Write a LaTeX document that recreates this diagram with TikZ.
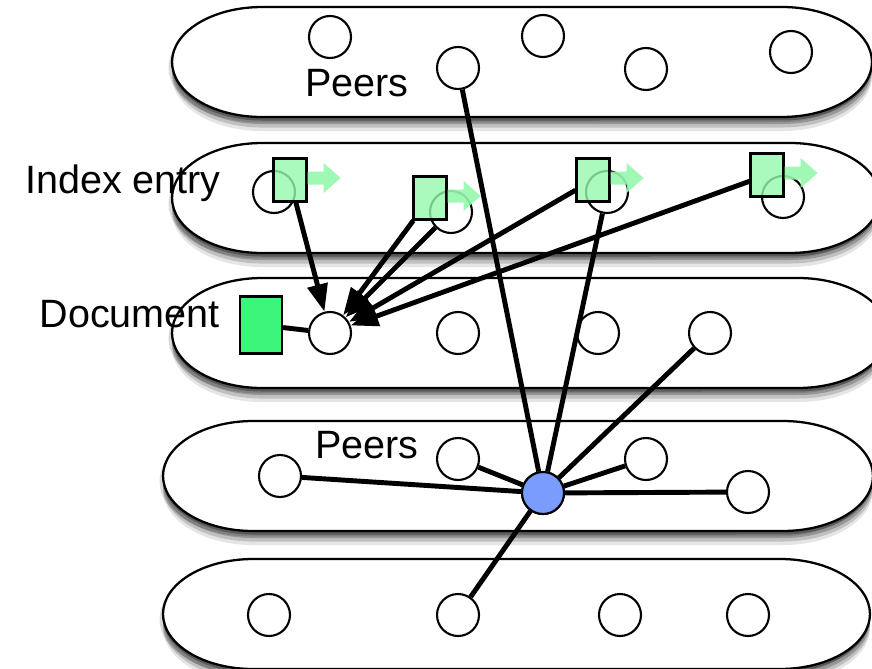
\documentclass[tikz,border=0pt]{standalone}
\usepackage{fontspec}
\setmainfont{Liberation Sans}
\usetikzlibrary{arrows.meta,shadows}

\definecolor{entrygreen}{RGB}{149,249,174}
\definecolor{docgreen}{RGB}{60,245,122}
\definecolor{hubblue}{RGB}{123,156,255}

\tikzset{
  layer/.style={draw=black, line width=1.3pt, fill=white,
    general shadow={shadow yshift=-2pt, fill=black, opacity=0.3},
    general shadow={shadow yshift=-4pt, fill=black, opacity=0.22},
    general shadow={shadow yshift=-6pt, fill=black, opacity=0.16},
    general shadow={shadow yshift=-8pt, fill=black, opacity=0.1},
    general shadow={shadow xshift=-2pt, shadow yshift=-3pt, fill=black, opacity=0.15}},
  peer/.style={circle, draw, line width=1.2pt, fill=white, minimum size=0.84cm, inner sep=0pt},
  hub/.style={peer, fill=hubblue},
  entry/.style={rectangle, draw, line width=1.2pt, fill=entrygreen, fill opacity=0.8,
    minimum width=0.66cm, minimum height=0.86cm, inner sep=0pt},
  tag/.style={fill=entrygreen, fill opacity=0.9},
  doc/.style={rectangle, draw, line width=1.2pt, fill=docgreen,
    minimum width=0.84cm, minimum height=1.14cm, inner sep=0pt},
  link/.style={line width=2.8pt},
  ref/.style={link, -{Triangle[length=0.55cm,width=0.4cm,fill=black]}},
  lbl/.style={font=\fontsize{22.5}{27}\selectfont, inner sep=0pt}
}

\begin{document}
\begin{tikzpicture}[x=0.02cm,y=-0.02cm]
\useasboundingbox (0,0) rectangle (872,669);
% Layers
\foreach \xl/\yt/\xr in {172/7/872, 172/143/880, 172/278/888, 163/421/873, 163/559/870} {
  \path[layer] (\xl+90,\yt) -- (\xr-90,\yt)
    arc[start angle=90,end angle=-90,x radius=1.8cm,y radius=1.1cm]
    -- (\xl+90,\yt+110)
    arc[start angle=270,end angle=90,x radius=1.8cm,y radius=1.1cm] -- cycle;
}
% Labels
\node[lbl, anchor=base west] (peerstop) at (305,97) {Peers};
\node[lbl, anchor=base east] (entrylbl) at (221,194) {Index entry};
\node[lbl, anchor=base east] (doclbl) at (220,327) {Document};
\node[lbl, anchor=base west] (peersmid) at (315,458) {Peers};
% Peers (top layer)
\node[peer] (p1) at (330,37) {};
\node[peer] (p2) at (458,68) {};
\node[peer] (p3) at (543,36) {};
\node[peer] (p4) at (646,69) {};
\node[peer] (p5) at (791,52) {};
% Index layer
\node[peer] (i1) at (274,192) {};
\node[peer] (i2) at (451,212) {};
\node[peer] (i3) at (607,192) {};
\node[peer] (i4) at (783,197) {};
% Document layer
\node[doc] (doc) at (261,325) {};
\node[peer] (d1) at (330,333) {};
\node[peer] (d2) at (458,333) {};
\node[peer] (d3) at (598,333) {};
\node[peer] (d4) at (710,333) {};
% Peers (middle layer)
\node[peer] (q1) at (280,476) {};
\node[peer] (q2) at (458,459) {};
\node[peer] (q3) at (646,459) {};
\node[peer] (q4) at (748,492) {};
% Bottom layer
\node[peer] (r1) at (269,615) {};
\node[peer] (r2) at (458,615) {};
\node[peer] (r3) at (620,615) {};
\node[peer] (r4) at (748,615) {};
% Hub links
\node[hub] (hub) at (543,493) {};
\foreach \n in {p2,i3,d4,q1,q2,q3,q4,r2}
  \draw[link] (\n) -- (hub);
\node[hub] at (hub) {};
\draw[link] (doc) -- (d1);
% Index entries
\node[entry] (s1) at (290,180) {};
\node[entry] (s2) at (430,198) {};
\node[entry] (s3) at (593,180) {};
\node[entry] (s4) at (767,175) {};
\foreach \s in {s1,s2,s3,s4}
  \fill[tag] (\s.east) ++(0,-8.5) -- ++(16,0) -- ++(0,-8.5) -- ++(17,15)
    -- ++(-17,15) -- ++(0,-8.5) -- ++(-16,0) -- cycle;
% References to the document peer
\foreach \s in {s1,s2,i2,s3,s4}
  \draw[ref] (\s) -- (d1);
\end{tikzpicture}
\end{document}
